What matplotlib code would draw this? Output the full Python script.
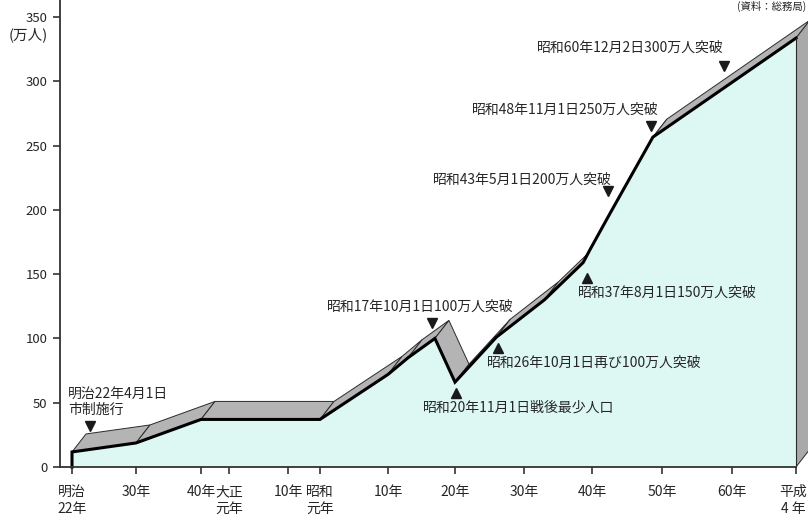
import numpy as np
import matplotlib
matplotlib.use("Agg")
import matplotlib.pyplot as plt
from matplotlib.patches import Polygon
from matplotlib.transforms import ScaledTranslation

plt.rcParams['font.family'] = ['Noto Sans CJK JP', 'DejaVu Sans']

# ---------------- data ----------------
years = [1889, 1897, 1907, 1926, 1935, 1938, 1942, 1945, 1951, 1958, 1963.7, 1964.7, 1967.6, 1973.7, 1992]
population = [11.7, 18.7, 37.0, 37.0, 72.0, 85.0, 100.0, 66.0, 101.0, 130.0, 159.0, 169.0, 197.5, 256.6, 333.6]

tick_years = [1889, 1897, 1907, 1912, 1921, 1926, 1935, 1945, 1955, 1965, 1975, 1985, 1992]
tick_labels = ["明治\n22年", "30年", "40年", "大正\n元年", "10年", "昭和\n元年", "10年",
               "20年", "30年", "40年", "50年", "60年", "平成\n4 年"]
yticks = [0, 50, 100, 150, 200, 250, 300, 350]

# milestone annotations (marker year, marker value, marker type, text)
ms_years = [1891.25, 1941.6, 1945.1, 1951.3, 1964.3, 1967.3, 1973.4, 1983.9]
ms_values = [32.0, 112.0, 57.5, 92.5, 147.0, 214.6, 265.0, 312.0]
ms_marker = ['v', 'v', '^', '^', '^', 'v', 'v', 'v']
ms_text = ["明治22年4月1日\n市制施行", "昭和17年10月1日100万人突破", "昭和20年11月1日戦後最少人口",
           "昭和26年10月1日再び100万人突破", "昭和37年8月1日150万人突破", "昭和43年5月1日200万人突破",
           "昭和48年11月1日250万人突破", "昭和60年12月2日300万人突破"]

# ---------------- layout ----------------
W, H = 808, 521
fig = plt.figure(figsize=(W / 100, H / 100), dpi=100)
ax = fig.add_axes([60 / W, 54 / H, (796 - 60) / W, 467 / H])

# non-uniform horizontal axis (as drawn in the original)
anchor_years = [1880] + tick_years + [2010]
anchor_pos = [0, 72, 136, 201, 229, 288, 320, 388, 455, 524, 592, 662, 732, 796, 960]
def fwd(x):
    return np.interp(x, anchor_years, anchor_pos)
def inv(p):
    return np.interp(p, anchor_pos, anchor_years)
ax.set_xscale('function', functions=(fwd, inv))
ax.set_xlim(inv(60), 1992)
ax.set_ylim(0, 467 / 1.2857)

FACE = '#ddf7f3'
RIB = '#b4b4b4'
SIDE = '#a9a9a9'
EDGE = '#2a2a2a'
TXT = '#262626'

# 3D extrusion offset in pixels
DX, DY = 14, 18
xs = np.array(years, dtype=float)
ys = np.array(population, dtype=float)
pts = ax.transData.transform(np.column_stack([xs, ys]))
back = pts + np.array([DX, DY])
inv_t = ax.transData.inverted()

# top ribbon
for i in range(len(xs) - 1):
    quad = np.array([pts[i], pts[i + 1], back[i + 1], back[i]])
    ax.add_patch(Polygon(inv_t.transform(quad), closed=True, facecolor=RIB,
                         edgecolor=EDGE, lw=0.7, zorder=2, clip_on=False))

# right side face
base = ax.transData.transform([[xs[-1], 0.0]])[0]
side = np.array([base, pts[-1], back[-1], base + np.array([DX, DY])])
ax.add_patch(Polygon(inv_t.transform(side), closed=True, facecolor=SIDE,
                     edgecolor=EDGE, lw=0.7, zorder=2, clip_on=False))

# front face
ax.fill_between(xs, 0, ys, facecolor=FACE, edgecolor='none', zorder=3)
ax.plot(np.r_[xs[0], xs], np.r_[0, ys], color='black', lw=2.2, zorder=4,
        solid_joinstyle='miter', clip_on=False)
ax.plot([xs[-1], xs[-1]], [0, ys[-1]], color=EDGE, lw=0.8, zorder=4, clip_on=False)

# markers
for x, y, m in zip(ms_years, ms_values, ms_marker):
    ax.plot([x], [y], marker=m, ms=7, color='#1a1a1a', zorder=5, linestyle='none')

# annotation text (positions in figure pixels)
text_pos = [(68, 402, 'left'), (327, 307, 'left'), (423, 408, 'left'), (487, 363, 'left'),
            (578, 293, 'left'), (433, 180, 'left'), (472, 110, 'left'), (537, 48, 'left')]
for (px, py, ha), t in zip(text_pos, ms_text):
    fig.text(px / W, 1 - py / H, t, ha=ha, va='center', fontsize=10, color=TXT,
             linespacing=1.25)

fig.text(28 / W, 1 - 35 / H, "(万人)", ha='center', va='center', fontsize=10.5, color=TXT)
fig.text(806 / W, 1 - 6 / H, "(資料：総務局)", ha='right', va='center', fontsize=7.5, color=TXT)

# axes styling
for s in ['top', 'right']:
    ax.spines[s].set_visible(False)
for s in ['left', 'bottom']:
    ax.spines[s].set_color('#333333')
    ax.spines[s].set_linewidth(1.3)
ax.spines['bottom'].set_zorder(6)
ax.set_yticks(yticks)
ax.set_yticklabels([str(v) for v in yticks])
ax.set_xticks(tick_years)
ax.set_xticklabels(tick_labels, linespacing=1.25)
ax.minorticks_off()
ax.tick_params(axis='y', direction='out', length=5, width=1.2, color='#333333',
               labelsize=9.5, labelcolor=TXT, pad=4)
ax.tick_params(axis='x', direction='out', length=5, width=1.2, color='#333333',
               labelsize=10, labelcolor=TXT, pad=8)
xlabs = ax.get_xticklabels()
for lab in xlabs:
    lab.set_verticalalignment('top')
# keep the last label inside the canvas
xlabs[-1].set_horizontalalignment('right')
xlabs[-1].set_multialignment('center')
xlabs[-1].set_transform(xlabs[-1].get_transform() + ScaledTranslation(0.11, 0, fig.dpi_scale_trans))
ax.set_facecolor('none')

fig.savefig("out.png", dpi=100)
